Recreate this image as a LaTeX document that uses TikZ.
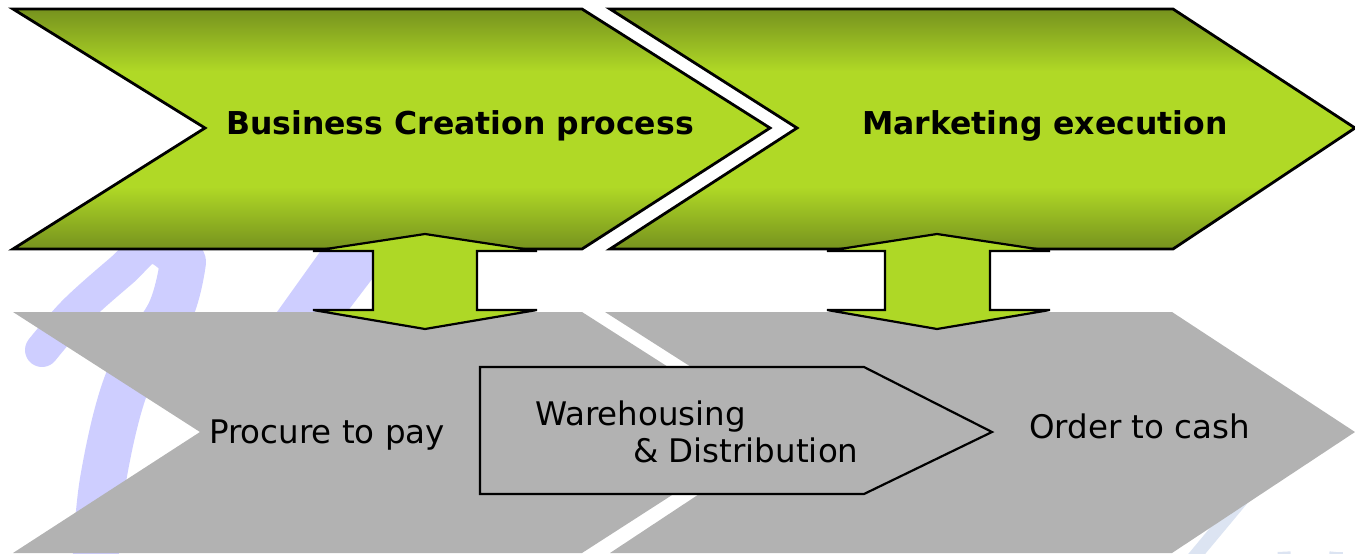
\documentclass[tikz,border=0pt]{standalone}
\usepackage{fontspec}
\setmainfont{DejaVu Sans}
\definecolor{gdark}{RGB}{118,146,30}
\definecolor{glight}{RGB}{176,217,38}
\definecolor{arrowgreen}{RGB}{174,216,38}
\definecolor{chevgray}{RGB}{178,178,178}
\definecolor{wmlav}{RGB}{206,206,255}
\definecolor{wmblue}{RGB}{220,228,242}
\pgfdeclareverticalshading{greenband}{100bp}{color(0bp)=(gdark); color(25bp)=(gdark); color(38bp)=(glight); color(62bp)=(glight); color(75bp)=(gdark); color(100bp)=(gdark)}
\tikzset{
  greenchev/.style={draw=black, line width=2.8pt, line join=miter, shading=greenband},
  graychev/.style={fill=chevgray},
  whbox/.style={fill=chevgray, draw=black, line width=2.2pt, line join=miter},
  updown/.style={fill=arrowgreen, draw=black, line width=2.2pt, line join=miter},
  boldlabel/.style={font=\fontsize{31.5}{38}\selectfont\bfseries, inner sep=0pt, anchor=base west},
  plainlabel/.style={font=\fontsize{32.5}{39}\selectfont, inner sep=0pt, anchor=base west},
  wmstroke/.style={draw=wmlav, line cap=round},
  wmstrokeb/.style={draw=wmblue}
}
\begin{document}
\begin{tikzpicture}[x=1pt,y=-1pt]
\useasboundingbox (0,0) rectangle (1355,554);
\clip (0,0) rectangle (1355,554);
% watermark
\draw[wmstroke, line width=34pt] plot[smooth, tension=0.6] coordinates {(42,350) (75,312) (121,271) (152,246) (183,268)};
\draw[wmstroke, line width=46pt] plot[smooth, tension=0.6] coordinates {(183,262) (170,312) (128,380) (103,480) (95,570)};
\fill[wmlav] (322,249) -- (395,249) -- (347,312) -- (277,312) -- cycle;
\draw[wmstrokeb, line width=13pt] (1250,490) -- (1190,562);
\draw[wmstrokeb, line width=13pt] (1284,560) -- (1284,552) arc[start angle=180, end angle=0, radius=26];
\draw[wmstrokeb, line width=13pt] (1336,552) -- (1336,560);
% lower gray chevrons
\fill[graychev] (13,312) -- (582,312) -- (770,432) -- (582,553) -- (13,553) -- (200,432) -- cycle;
\fill[graychev] (605,312) -- (1172,312) -- (1355,432) -- (1172,553) -- (610,553) -- (793,432) -- cycle;
% warehousing pentagon
\draw[whbox] (480,367) -- (864,367) -- (992,432) -- (864,494) -- (480,494) -- cycle;
% upper green chevrons
\path[greenchev] (13,9) -- (582,9) -- (770,128) -- (582,249) -- (13,249) -- (205,128) -- cycle;
\path[greenchev] (610,9) -- (1173,9) -- (1355,128) -- (1173,249) -- (610,249) -- (797,128) -- cycle;
% up-down arrows
\draw[updown] (425,234) -- (537,251) -- (477,251) -- (477,310) -- (537,310) -- (425,329) -- (313,310) -- (373,310) -- (373,251) -- (313,251) -- cycle;
\draw[updown] (937,234) -- (1050,251) -- (990,251) -- (990,310) -- (1050,310) -- (937,329) -- (827,310) -- (885,310) -- (885,251) -- (827,251) -- cycle;
% labels
\node[boldlabel] (bcp) at (226,134) {Business Creation process};
\node[boldlabel] (mex) at (862,134) {Marketing execution};
\node[plainlabel] (ptp) at (209,443) {Procure to pay};
\node[plainlabel] (otc) at (1029,438) {Order to cash};
\node[plainlabel] (wad1) at (535,425) {Warehousing};
\node[plainlabel] (wad2) at (633,462) {\& Distribution};
\end{tikzpicture}
\end{document}
